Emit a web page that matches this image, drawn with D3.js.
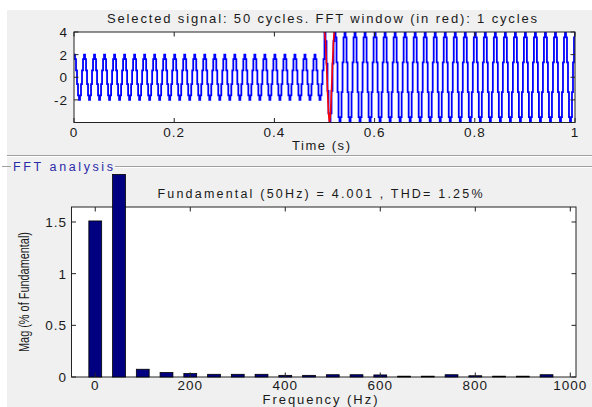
<!DOCTYPE html>
<html><head><meta charset="utf-8">
<script src="https://cdn.jsdelivr.net/npm/d3@7"></script>
<style>
body{margin:0;background:#fff;}
svg text{font-family:"Liberation Sans",Arial,sans-serif;}
</style></head>
<body><svg id="c" width="592" height="407"></svg>
<script>
// ---- data ----
const timeTicks = [0, 0.2, 0.4, 0.6, 0.8, 1];
const signalTicks = [-2, 0, 2, 4];
const cycleShape = [1, 0.8, 0.3, -0.3, -0.8, -1, -0.8, -0.3, 0.3, 0.8];   // normalized samples of one 50 Hz cycle
const cycleAmp = [2,2,2,2,2,2,2,2,2,2,2,2,2,2,2,2,2,2,2,2,2,2,2,2,2,
                  4.0,4.4,4.4,4.4,4.4,4.4,4.4,4.4,4.4,4.4,4.4,4.4,4.4,4.4,4.4,4.4,4.4,4.4,4.4,4.4,4.4,4.4,4.4,4.4,4.4];
const fftWindowCycle = 25;
const freqs = [0,50,100,150,200,250,300,350,400,450,500,550,600,650,700,750,800,850,900,950];
const mags  = [1.51,1.96,0.075,0.043,0.033,0.026,0.026,0.026,0.016,0.016,0.022,0.022,0.02,0.008,0.008,0.022,0.012,0.008,0.008,0.022];
const freqTicks = [0, 200, 400, 600, 800, 1000];
const magTicks = [0, 0.5, 1, 1.5];

const svg = d3.select("#c");
const txt = "#1a1a1a";

// backgrounds
svg.append("rect").attr("x",7).attr("y",10).attr("width",585).attr("height",397).attr("fill","#f0f0f0");
svg.append("line").attr("x1",7).attr("x2",592).attr("y1",155.5).attr("y2",155.5).attr("stroke","#a0a0a0");
svg.append("line").attr("x1",7).attr("x2",592).attr("y1",156.5).attr("y2",156.5).attr("stroke","#ffffff");
// FFT panel frame
svg.append("line").attr("x1",2).attr("x2",11).attr("y1",166.5).attr("y2",166.5).attr("stroke","#a0a0a0");
svg.append("line").attr("x1",115).attr("x2",592).attr("y1",166.5).attr("y2",166.5).attr("stroke","#a0a0a0");
svg.append("line").attr("x1",115).attr("x2",592).attr("y1",167.5).attr("y2",167.5).attr("stroke","#ffffff");
svg.append("text").attr("x",13).attr("y",171).attr("font-size",12.5).attr("fill","#2b2ba8")
  .attr("textLength",100).attr("lengthAdjust","spacing").text("FFT analysis");

// ---- top plot ----
const T = {l:74, r:575, t:32, b:122.5};
const xT = d3.scaleLinear().domain([0,1]).range([T.l,T.r]);
const yT = d3.scaleLinear().domain([-4,4]).range([T.b,T.t]);
svg.append("rect").attr("x",T.l).attr("y",T.t).attr("width",T.r-T.l).attr("height",T.b-T.t).attr("fill","#fff");
svg.append("clipPath").attr("id","clipT").append("rect")
  .attr("x",T.l).attr("y",T.t).attr("width",T.r-T.l).attr("height",T.b-T.t);

const spc = cycleShape.length;
const samples = [];
cycleAmp.forEach((a,ci)=>{
  cycleShape.forEach((v,k)=>{ samples.push({t:(ci + k/spc)/50, v:a*v, c:ci}); });
});
samples.push({t:1, v:cycleAmp[49]*cycleShape[0], c:50});
const line = d3.line().x(d=>xT(d.t)).y(d=>yT(d.v)).curve(d3.curveStepAfter);
const lineLin = d3.line().x(d=>xT(d.t)).y(d=>yT(d.v));
const gS = svg.append("g").attr("clip-path","url(#clipT)");
gS.append("path").datum(samples).attr("d",line).attr("fill","none").attr("stroke","#0000ff").attr("stroke-width",1.8);
const red = samples.filter(d=>d.c===fftWindowCycle || (d.c===fftWindowCycle+1 && d.t===(fftWindowCycle+1)/50));
gS.append("path").datum(red).attr("d",lineLin).attr("fill","none").attr("stroke","#ff0000").attr("stroke-width",1.6);

function box(B){
  svg.append("rect").attr("x",B.l).attr("y",B.t).attr("width",B.r-B.l).attr("height",B.b-B.t)
    .attr("fill","none").attr("stroke","#222").attr("stroke-width",1);
}
box(T);
const tl = 4.5;
timeTicks.forEach(v=>{
  const x = xT(v);
  svg.append("line").attr("x1",x).attr("x2",x).attr("y1",T.b).attr("y2",T.b-tl).attr("stroke","#222");
  svg.append("line").attr("x1",x).attr("x2",x).attr("y1",T.t).attr("y2",T.t+tl).attr("stroke","#222");
  svg.append("text").attr("x",x).attr("y",137).attr("text-anchor","middle").attr("font-size",13.5)
    .attr("letter-spacing",1).attr("fill",txt).text(v);
});
signalTicks.forEach(v=>{
  const y = yT(v);
  svg.append("line").attr("x1",T.l).attr("x2",T.l+tl).attr("y1",y).attr("y2",y).attr("stroke","#222");
  svg.append("line").attr("x1",T.r).attr("x2",T.r-tl).attr("y1",y).attr("y2",y).attr("stroke","#222");
  svg.append("text").attr("x",68).attr("y",y+5).attr("text-anchor","end").attr("font-size",13.5)
    .attr("letter-spacing",1).attr("fill",txt).text(v);
});
svg.append("text").attr("x",322).attr("y",23).attr("text-anchor","middle").attr("font-size",13)
  .attr("textLength",430).attr("lengthAdjust","spacing").attr("fill",txt)
  .text("Selected signal: 50 cycles. FFT window (in red): 1 cycles");
svg.append("text").attr("x",321).attr("y",150).attr("text-anchor","middle").attr("font-size",13)
  .attr("textLength",58).attr("lengthAdjust","spacing").attr("fill",txt).text("Time (s)");

// ---- FFT plot ----
const F = {l:71.5, r:576, t:207, b:377};
const xF = d3.scaleLinear().domain([-50,1012]).range([F.l,F.r]);
const yF = d3.scaleLinear().domain([0,1.645]).range([F.b,F.t]);
svg.append("rect").attr("x",F.l).attr("y",F.t).attr("width",F.r-F.l).attr("height",F.b-F.t).attr("fill","#fff");
svg.append("text").attr("x",320).attr("y",198).attr("text-anchor","middle").attr("font-size",12.5)
  .attr("textLength",325).attr("lengthAdjust","spacing").attr("fill",txt)
  .text("Fundamental (50Hz) = 4.001 , THD= 1.25%");
box(F);
const bw = 27;
svg.append("g").selectAll("rect").data(freqs).join("rect")
  .attr("x",(f)=>xF(f-bw/2)).attr("width",xF(bw)-xF(0))
  .attr("y",(f,i)=>yF(mags[i])).attr("height",(f,i)=>yF(0)-yF(mags[i]))
  .attr("fill","#000080").attr("stroke","#000").attr("stroke-width",0.8);
freqTicks.forEach(v=>{
  const x = xF(v);
  svg.append("line").attr("x1",x).attr("x2",x).attr("y1",F.b).attr("y2",F.b-tl).attr("stroke","#222");
  svg.append("line").attr("x1",x).attr("x2",x).attr("y1",F.t).attr("y2",F.t+tl).attr("stroke","#222");
  svg.append("text").attr("x",x).attr("y",390).attr("text-anchor","middle").attr("font-size",13.5)
    .attr("letter-spacing",1).attr("fill",txt).text(v);
});
magTicks.forEach(v=>{
  const y = yF(v);
  svg.append("line").attr("x1",F.l).attr("x2",F.l+tl).attr("y1",y).attr("y2",y).attr("stroke","#222");
  svg.append("line").attr("x1",F.r).attr("x2",F.r-tl).attr("y1",y).attr("y2",y).attr("stroke","#222");
  svg.append("text").attr("x",67).attr("y",y+5).attr("text-anchor","end").attr("font-size",13.5)
    .attr("letter-spacing",1).attr("fill",txt).text(v);
});
svg.append("text").attr("x",320).attr("y",404).attr("text-anchor","middle").attr("font-size",13)
  .attr("textLength",115).attr("lengthAdjust","spacing").attr("fill",txt).text("Frequency (Hz)");
svg.append("text").attr("transform","translate(29,292) rotate(-90)").attr("text-anchor","middle")
  .attr("font-size",14).attr("textLength",120).attr("lengthAdjust","spacingAndGlyphs").attr("fill",txt)
  .text("Mag (% of Fundamental)");
</script></body></html>
